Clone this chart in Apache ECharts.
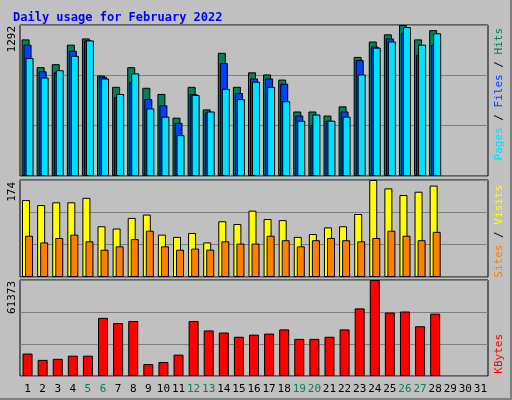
<!DOCTYPE html>
<html><head><meta charset="utf-8">
<script src="https://cdn.jsdelivr.net/npm/echarts@6/dist/echarts.min.js"></script>
<style>
body{margin:0;background:#fff}
#c{width:510px;height:398px;background:#c0c0c0;border-right:2px solid #808080;border-bottom:2px solid #808080}
</style></head><body>
<div id="c"></div>
<script>
// days of the month, weekends coloured
var days = [];
for (var d = 1; d <= 31; d++) days.push(String(d));
var weekend = ['5', '6', '12', '13', '19', '20', '26', '27'];

var hits = [1169,931,957,1124,1177,860,763,931,755,702,499,763,570,1054,763,887,869,825,552,552,517,596,1019,1151,1212,1292,1169,1248];
var files = [1124,896,887,1072,1160,849,675,807,658,605,455,701,543,966,710,834,834,790,517,438,473,552,992,1107,1177,1221,1036,1124];
var pages = [1010,843,905,1028,1160,834,702,878,578,508,350,693,552,746,658,807,763,640,473,526,473,508,869,1098,1151,1274,1124,1221];
var visits = [138,129,134,134,142,91,87,106,112,76,72,79,62,100,95,119,104,102,72,77,89,91,113,174,159,147,153,164];
var sites = [74,62,70,76,64,49,55,68,83,55,49,51,49,64,60,60,74,66,55,66,70,66,64,70,83,74,66,81];
var kbytes = [14336,10304,10976,12992,12992,37184,33824,35168,7616,8960,13664,35168,29120,27776,25088,26432,27104,29792,23744,23744,25088,29792,43232,61373,40544,41216,31808,39872];

var maxTop = 1292, maxMid = 174, maxBot = 61373;

var chart = echarts.init(document.getElementById('c'));
var mono = 'DejaVu Sans Mono';
var f11 = '11px ' + mono;
var grids = [
    {left: 20, right: 22, top: 25, height: 151},
    {left: 20, right: 22, top: 180, height: 97},
    {left: 20, right: 22, top: 280, height: 96}
];
function xAx(i, show) {
    return {
        type: 'category', gridIndex: i, data: days,
        axisLine: {show: false}, axisTick: {show: false},
        axisLabel: {
            show: show, interval: 0, fontFamily: mono, fontSize: 11, color: '#000', margin: 8,
            formatter: function (v) { return weekend.indexOf(v) >= 0 ? '{w|' + v + '}' : v; },
            rich: {w: {color: '#00805c', fontFamily: mono, fontSize: 11}}
        }
    };
}
function yAx(i, m) {
    return {
        type: 'value', gridIndex: i, min: 0, max: m, interval: m / 3,
        splitLine: {lineStyle: {color: '#808080', width: 1}},
        axisLine: {show: false}, axisTick: {show: false},
        axisLabel: {show: false}
    };
}
var bs = {borderColor: '#000', borderWidth: 1};
function vtext(x, y, text, rich, fill) {
    var st = {text: text, font: f11};
    if (rich) st.rich = rich;
    if (fill) st.fill = fill;
    return {type: 'text', left: x, top: y, rotation: Math.PI / 2, style: st};
}
chart.setOption({
    animation: false,
    title: {text: 'Daily usage for February 2022', left: 8, top: 7,
        textStyle: {color: '#0000ff', fontFamily: mono, fontSize: 12, fontWeight: 'bold'}},
    grid: grids.map(function (g) { return Object.assign({show: true, borderColor: '#000', borderWidth: 1, backgroundColor: '#c0c0c0'}, g); }),
    xAxis: [xAx(0, false), xAx(1, false), xAx(2, true)],
    yAxis: [yAx(0, maxTop), yAx(1, maxMid), yAx(2, maxBot)],
    series: [
        {type: 'bar', name: 'Hits', data: hits, xAxisIndex: 0, yAxisIndex: 0, barWidth: 8, barGap: '-75%', itemStyle: Object.assign({color: '#00805c'}, bs)},
        {type: 'bar', name: 'Files', data: files, xAxisIndex: 0, yAxisIndex: 0, barWidth: 8, barGap: '-75%', itemStyle: Object.assign({color: '#0040ff'}, bs)},
        {type: 'bar', name: 'Pages', data: pages, xAxisIndex: 0, yAxisIndex: 0, barWidth: 8, barGap: '-75%', itemStyle: Object.assign({color: '#00e0ff'}, bs)},
        {type: 'bar', name: 'Visits', data: visits, xAxisIndex: 1, yAxisIndex: 1, barWidth: 8, barGap: '-62%', itemStyle: Object.assign({color: '#ffff00'}, bs)},
        {type: 'bar', name: 'Sites', data: sites, xAxisIndex: 1, yAxisIndex: 1, barWidth: 8, barGap: '-62%', itemStyle: Object.assign({color: '#ff8000'}, bs)},
        {type: 'bar', name: 'KBytes', data: kbytes, xAxisIndex: 2, yAxisIndex: 2, barWidth: 10, itemStyle: Object.assign({color: '#ff0000'}, bs)}
    ],
    graphic: [
        vtext(7, 26, String(maxTop), null, '#000'),
        vtext(7, 182, String(maxMid), null, '#000'),
        vtext(7, 281, String(maxBot), null, '#000'),
        vtext(494, 28, '{p|Pages} / {f|Files} / {h|Hits}', {
            p: {fill: '#00e0ff', font: f11}, f: {fill: '#0040ff', font: f11}, h: {fill: '#00805c', font: f11}}),
        vtext(494, 185, '{s|Sites} / {v|Visits}', {
            s: {fill: '#ff8000', font: f11}, v: {fill: '#ffff00', font: f11}}),
        vtext(494, 334, 'KBytes', null, '#ff0000')
    ]
});
</script>
</body></html>
